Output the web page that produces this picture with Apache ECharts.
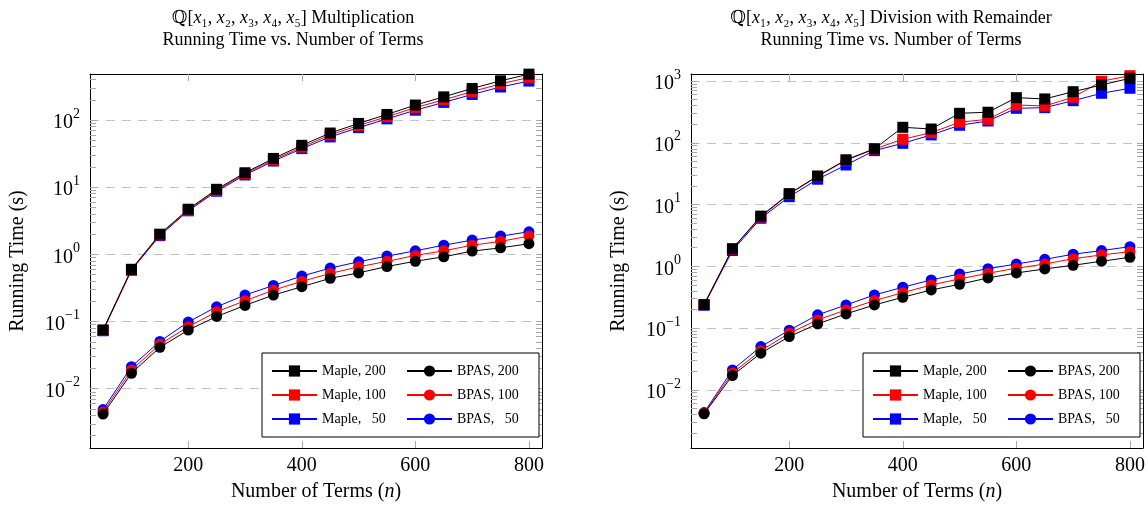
<!DOCTYPE html>
<html><head><meta charset="utf-8">
<script src="https://cdn.jsdelivr.net/npm/echarts@6/dist/echarts.min.js"></script>
<style>html,body{margin:0;padding:0;background:#fff}#c{width:1148px;height:509px}</style>
</head><body><div id="c"></div><script>
// ---- data ----
const nTerms = [50,100,150,200,250,300,350,400,450,500,550,600,650,700,750,800];
const xTickValues = [200,400,600,800];
const mulYLabels = [0.01,0.1,1,10,100];
const divYLabels = [0.01,0.1,1,10,100,1000];
const legendNames = ['Maple, 200','BPAS, 200','Maple, 100','BPAS, 100','Maple,   50','BPAS,   50'];

// Multiplication
const mulMaple200 = [0.075,0.60,2.0,4.7,9.3,16.4,26.8,42,64,89,121,167,221,295,383,482];
const mulMaple100 = [0.074,0.59,1.95,4.55,9.0,15.8,25.6,39.5,60,83,112,153,200,265,345,430];
const mulMaple50  = [0.073,0.58,1.9,4.45,8.7,15.2,24.5,37.5,56,77,104,140,183,240,310,380];
const mulBpas200  = [0.0042,0.0170,0.0413,0.0747,0.119,0.174,0.248,0.33,0.44,0.53,0.66,0.79,0.92,1.12,1.25,1.44];
const mulBpas100  = [0.0045,0.019,0.0458,0.0837,0.14,0.204,0.294,0.396,0.52,0.653,0.787,0.966,1.13,1.37,1.56,1.87];
const mulBpas50   = [0.0049,0.0213,0.0507,0.0984,0.166,0.248,0.345,0.475,0.625,0.776,0.944,1.13,1.37,1.63,1.87,2.17];

// Division with remainder
const divMaple200 = [0.24,1.93,6.5,15.0,29,53,80,178,167,300,312,537,512,671,862,1106];
const divMaple100 = [0.24,1.9,6.3,14.8,28.5,52,79,114,146,215,240,409,394,545,990,1218];
const divMaple50  = [0.235,1.8,6.0,13.4,25.7,43.7,74.6,98,134,192,225,361,370,480,632,762];
const divBpas200  = [0.0041,0.0171,0.0393,0.0729,0.117,0.170,0.237,0.316,0.415,0.513,0.649,0.782,0.908,1.04,1.21,1.40];
const divBpas100  = [0.0042,0.0188,0.0432,0.0826,0.136,0.197,0.279,0.375,0.50,0.625,0.773,0.932,1.09,1.33,1.53,1.73];
const divBpas50   = [0.0043,0.0211,0.0502,0.0925,0.164,0.237,0.344,0.459,0.603,0.753,0.918,1.09,1.30,1.57,1.80,2.08];

// ---- chart ----
const FONT = '"Liberation Serif", "DejaVu Serif", serif';
const TICK = '#a8a8a8';
function logTicks(min, max, majors){
  const out = [];
  for (let k = -4; k <= 4; k++) for (let m = (majors ? 1 : 2); m <= (majors ? 1 : 9); m++) {
    const v = parseFloat((m*Math.pow(10,k)).toPrecision(6));
    if (v >= min && v <= max) out.push(v);
  }
  return out;
}
function supLabel(v){
  const e = Math.round(Math.log10(v));
  return '{b|10}{s|' + (e < 0 ? '\u2212' + (-e) : e) + '}';
}
const xMin = 27, xMax = 823;
const yRange = [[0.001312, 484], [0.001148, 1297]];
const yLabelSets = [mulYLabels, divYLabels];

const grids = [
  {left: 90, top: 74, width: 452, height: 374},
  {left: 691, top: 74, width: 452, height: 374}
];
const xAxes = [], yAxes = [];
const lineBlack = {show: true, onZero: false, lineStyle: {color: '#000', width: 1}};
grids.forEach((g, gi) => {
  const [ymin, ymax] = yRange[gi];
  xAxes.push({
    gridIndex: gi, type: 'value', position: 'bottom', min: xMin, max: xMax,
    axisLine: lineBlack,
    axisTick: {show: true, inside: true, length: 7, customValues: xTickValues, lineStyle: {color: TICK}},
    axisLabel: {customValues: xTickValues, color: '#000', fontFamily: FONT, fontSize: 20, margin: 8},
    splitLine: {show: false},
    name: 'Number of Terms ({i|n})', nameLocation: 'middle', nameGap: 34,
    nameTextStyle: {color: '#000', fontFamily: FONT, fontSize: 20,
      rich: {i: {fontStyle: 'italic', fontFamily: FONT, fontSize: 20, color: '#000'}}}
  });
  xAxes.push({
    gridIndex: gi, type: 'value', position: 'top', min: xMin, max: xMax,
    axisLine: lineBlack,
    axisTick: {show: true, inside: true, length: 7, customValues: xTickValues, lineStyle: {color: TICK}},
    axisLabel: {show: false}, splitLine: {show: false}
  });
  const majors = logTicks(ymin, ymax, true);
  const minors = logTicks(ymin, ymax, false);
  // 0: left, labels + major ticks + grid
  yAxes.push({
    gridIndex: gi, type: 'log', position: 'left', min: ymin, max: ymax,
    axisLine: lineBlack,
    axisTick: {show: true, inside: true, length: 7, customValues: majors, lineStyle: {color: TICK}},
    axisLabel: {customValues: yLabelSets[gi], formatter: supLabel, margin: 10, color: '#000',
      rich: {
        b: {fontFamily: FONT, fontSize: 20, color: '#000', lineHeight: 26, verticalAlign: 'bottom'},
        s: {fontFamily: FONT, fontSize: 14, color: '#000', verticalAlign: 'top'}
      }},
    splitLine: {show: true, lineStyle: {color: '#c4c4c4', type: [9, 7], width: 1}},
    name: 'Running Time (s)', nameLocation: 'middle', nameGap: 62,
    nameTextStyle: {color: '#000', fontFamily: FONT, fontSize: 20}
  });
  // 1: right, all ticks
  yAxes.push({
    gridIndex: gi, type: 'log', position: 'right', min: ymin, max: ymax,
    axisLine: lineBlack,
    axisTick: {show: true, inside: true, length: 6, customValues: majors.concat(minors), lineStyle: {color: TICK}},
    axisLabel: {show: false}, splitLine: {show: false}
  });
  // 2: left, minor ticks only
  yAxes.push({
    gridIndex: gi, type: 'log', position: 'left', offset: 0, min: ymin, max: ymax,
    axisLine: {show: false},
    axisTick: {show: true, inside: true, length: 6, customValues: minors, lineStyle: {color: TICK}},
    axisLabel: {show: false}, splitLine: {show: false}
  });
});

function mk(name, vals, color, symbol, gi, z){
  return {
    name, type: 'line', xAxisIndex: gi*2, yAxisIndex: gi*3, z,
    data: nTerms.map((n, i) => [n, vals[i]]),
    symbol, symbolSize: 11, showAllSymbol: true,
    lineStyle: {color, width: 1}, itemStyle: {color},
    emphasis: {disabled: true}
  };
}
const series = [
  mk('Maple,   50', mulMaple50, '#0000ff', 'rect', 0, 2),
  mk('BPAS,   50', mulBpas50, '#0000ff', 'circle', 0, 2),
  mk('Maple, 100', mulMaple100, '#ff0000', 'rect', 0, 3),
  mk('BPAS, 100', mulBpas100, '#ff0000', 'circle', 0, 3),
  mk('Maple, 200', mulMaple200, '#000000', 'rect', 0, 4),
  mk('BPAS, 200', mulBpas200, '#000000', 'circle', 0, 4),
  mk('Maple,   50', divMaple50, '#0000ff', 'rect', 1, 2),
  mk('BPAS,   50', divBpas50, '#0000ff', 'circle', 1, 2),
  mk('Maple, 100', divMaple100, '#ff0000', 'rect', 1, 3),
  mk('BPAS, 100', divBpas100, '#ff0000', 'circle', 1, 3),
  mk('Maple, 200', divMaple200, '#000000', 'rect', 1, 4),
  mk('BPAS, 200', divBpas200, '#000000', 'circle', 1, 4)
];

function legendAt(left){
  return {
    data: legendNames, left, top: 353, width: 270, orient: 'horizontal',
    itemWidth: 45, itemHeight: 14, itemGap: 8,
    padding: [10, 6, 10, 9],
    backgroundColor: '#fff', borderColor: '#000', borderWidth: 1, borderRadius: 0,
    selectedMode: false,
    textStyle: {fontFamily: FONT, fontSize: 14, color: '#000', width: 76, lineHeight: 16}
  };
}
const titleRich = {i: {fontStyle: 'italic', fontFamily: FONT, fontSize: 18, color: '#000'}};
const xs = '{i|x}\u2081, {i|x}\u2082, {i|x}\u2083, {i|x}\u2084, {i|x}\u2085';
const option = {
  animation: false,
  backgroundColor: '#fff',
  title: [
    {text: '\u211A[' + xs + '] Multiplication\nRunning Time vs. Number of Terms', left: 288, top: 2, textAlign: 'center',
     textStyle: {fontFamily: FONT, fontSize: 18, fontWeight: 'normal', color: '#000', lineHeight: 22, rich: titleRich}},
    {text: '\u211A[' + xs + '] Division with Remainder\nRunning Time vs. Number of Terms', left: 886, top: 2, textAlign: 'center',
     textStyle: {fontFamily: FONT, fontSize: 18, fontWeight: 'normal', color: '#000', lineHeight: 22, rich: titleRich}}
  ],
  legend: [legendAt(262), legendAt(863)],
  grid: grids, xAxis: xAxes, yAxis: yAxes, series
};
const chart = echarts.init(document.getElementById('c'), null, {renderer: 'canvas'});
chart.setOption(option);
</script></body></html>
